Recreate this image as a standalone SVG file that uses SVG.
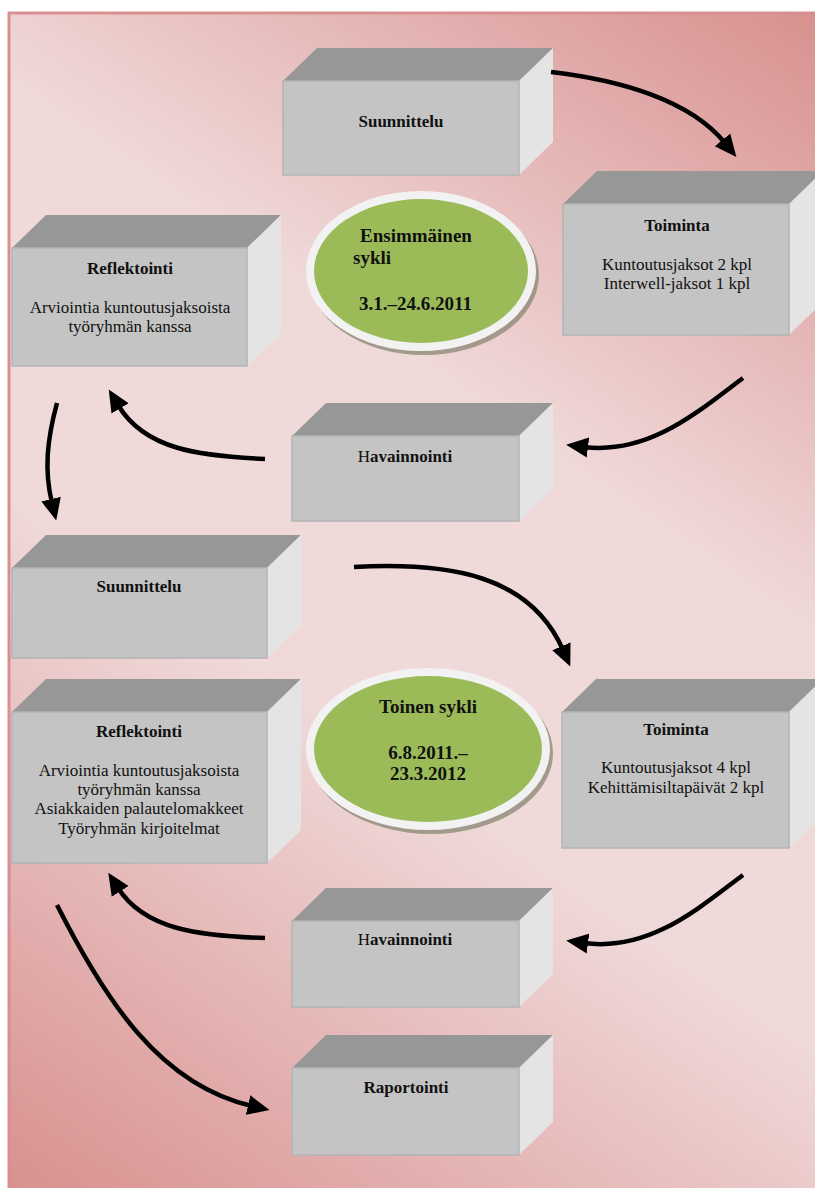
<svg xmlns="http://www.w3.org/2000/svg" width="815" height="1188" viewBox="0 0 815 1188">
<defs>
<linearGradient id="bg" gradientUnits="userSpaceOnUse" x1="815" y1="13" x2="9" y2="1188">
<stop offset="0" stop-color="#d8918f"/>
<stop offset="0.36" stop-color="#f0d9d9"/>
<stop offset="0.6" stop-color="#f0d9d9"/>
<stop offset="1" stop-color="#d8918f"/>
</linearGradient>
<marker id="ah" markerUnits="userSpaceOnUse" markerWidth="24" markerHeight="22" refX="4" refY="11" orient="auto">
<path d="M0,1 L22,11 L0,21 z" fill="#000"/>
</marker>
<style>
.top{fill:#979797}
.front{fill:#c4c4c4;stroke:#b4b4b4;stroke-width:1.5}
.side{fill:#e4e4e4}
.t{font-family:"Liberation Serif","Times New Roman",serif;font-size:17px;fill:#111;text-anchor:middle}
.b{font-weight:bold}
.e{font-family:"Liberation Serif","Times New Roman",serif;font-size:19px;font-weight:bold;fill:#111}
.arr{fill:none;stroke:#000;stroke-width:4.5;marker-end:url(#ah)}
.ring{fill:#f2f2f2}
.sh{fill:#8f8b78;opacity:0.8}
.green{fill:#9bbb59}
</style>
</defs>
<rect x="9" y="13" width="812" height="1180" fill="url(#bg)" stroke="#d88f92" stroke-width="3"/>

<g id="box-suunnittelu-1">
<polygon class="top" points="283,81 317,48 553,48 519,81"/>
<polygon class="side" points="519,81 553,48 553,142 519,175"/>
<rect class="front" x="283" y="81" width="236" height="94"/>
<text class="t b" x="401" y="127">Suunnittelu</text>
</g>

<g id="box-toiminta-1">
<polygon class="top" points="563,204 597,171 823,171 789,204"/>
<polygon class="side" points="789,204 823,171 823,302 789,335"/>
<rect class="front" x="563" y="204" width="226" height="131"/>
<text class="t b" x="677" y="231">Toiminta</text>
<text class="t" x="677" y="270">Kuntoutusjaksot 2 kpl</text>
<text class="t" x="677" y="289">Interwell-jaksot 1 kpl</text>
</g>

<g id="box-reflektointi-1">
<polygon class="top" points="12,248 46,215 281,215 247,248"/>
<polygon class="side" points="247,248 281,215 281,333 247,366"/>
<rect class="front" x="12" y="248" width="235" height="118"/>
<text class="t b" x="130" y="274">Reflektointi</text>
<text class="t" x="130" y="313">Arviointia kuntoutusjaksoista</text>
<text class="t" x="130" y="332">työryhmän kanssa</text>
</g>

<g id="box-havainnointi-1">
<polygon class="top" points="292,436 326,403 553,403 519,436"/>
<polygon class="side" points="519,436 553,403 553,488 519,521"/>
<rect class="front" x="292" y="436" width="227" height="85"/>
<text class="t b" x="405" y="462"><tspan font-weight="normal">H</tspan>avainnointi</text>
</g>

<g id="box-suunnittelu-2">
<polygon class="top" points="12,568 46,535 301,535 267,568"/>
<polygon class="side" points="267,568 301,535 301,625 267,658"/>
<rect class="front" x="12" y="568" width="255" height="90"/>
<text class="t b" x="139" y="592">Suunnittelu</text>
</g>

<g id="box-reflektointi-2">
<polygon class="top" points="12,712 46,679 301,679 267,712"/>
<polygon class="side" points="267,712 301,679 301,830 267,863"/>
<rect class="front" x="12" y="712" width="255" height="151"/>
<text class="t b" x="139" y="737">Reflektointi</text>
<text class="t" x="139" y="776">Arviointia kuntoutusjaksoista</text>
<text class="t" x="139" y="795">työryhmän kanssa</text>
<text class="t" x="139" y="814">Asiakkaiden palautelomakkeet</text>
<text class="t" x="139" y="834">Työryhmän kirjoitelmat</text>
</g>

<g id="box-toiminta-2">
<polygon class="top" points="562,712 596,679 823,679 789,712"/>
<polygon class="side" points="789,712 823,679 823,815 789,848"/>
<rect class="front" x="562" y="712" width="227" height="136"/>
<text class="t b" x="676" y="735">Toiminta</text>
<text class="t" x="676" y="773">Kuntoutusjaksot 4 kpl</text>
<text class="t" x="676" y="793">Kehittämisiltapäivät 2 kpl</text>
</g>

<g id="box-havainnointi-2">
<polygon class="top" points="292,921 326,888 553,888 519,921"/>
<polygon class="side" points="519,921 553,888 553,974 519,1007"/>
<rect class="front" x="292" y="921" width="227" height="86"/>
<text class="t b" x="405" y="945"><tspan font-weight="normal">H</tspan>avainnointi</text>
</g>

<g id="box-raportointi">
<polygon class="top" points="292,1068 326,1035 553,1035 519,1068"/>
<polygon class="side" points="519,1068 553,1035 553,1122 519,1155"/>
<rect class="front" x="292" y="1068" width="227" height="87"/>
<text class="t b" x="406" y="1093">Raportointi</text>
</g>

<g id="cycle-1">
<ellipse class="sh" cx="424" cy="275" rx="115" ry="80"/>
<ellipse class="ring" cx="421" cy="271" rx="115" ry="80"/>
<ellipse class="green" cx="421" cy="271" rx="107" ry="72"/>
<text class="e" x="360" y="242">Ensimmäinen</text>
<text class="e" x="353" y="264">sykli</text>
<text class="e" x="359" y="310">3.1.–24.6.2011</text>
</g>

<g id="cycle-2">
<ellipse class="sh" cx="431" cy="753" rx="122" ry="81"/>
<ellipse class="ring" cx="428" cy="749" rx="122" ry="81"/>
<ellipse class="green" cx="428" cy="749" rx="114" ry="73"/>
<text class="e" x="428" y="713" text-anchor="middle">Toinen sykli</text>
<text class="e" x="428" y="759" text-anchor="middle">6.8.2011.–</text>
<text class="e" x="428" y="780" text-anchor="middle">23.3.2012</text>
</g>

<g id="connectors">
<path class="arr" d="M551,72 C620,80 690,100 725,143"/>
<path class="arr" d="M743,378 C700,410 650,455 584,447"/>
<path class="arr" d="M265,459 C200,456 145,450 118,405"/>
<path class="arr" d="M57,403 C47,440 44,470 52,503"/>
<path class="arr" d="M354,567 C450,562 530,575 563,650"/>
<path class="arr" d="M743,875 C700,907 650,952 584,943"/>
<path class="arr" d="M265,938 C200,936 145,930 118,888"/>
<path class="arr" d="M57,905 C105,1000 160,1085 252,1106"/>
</g>
</svg>
